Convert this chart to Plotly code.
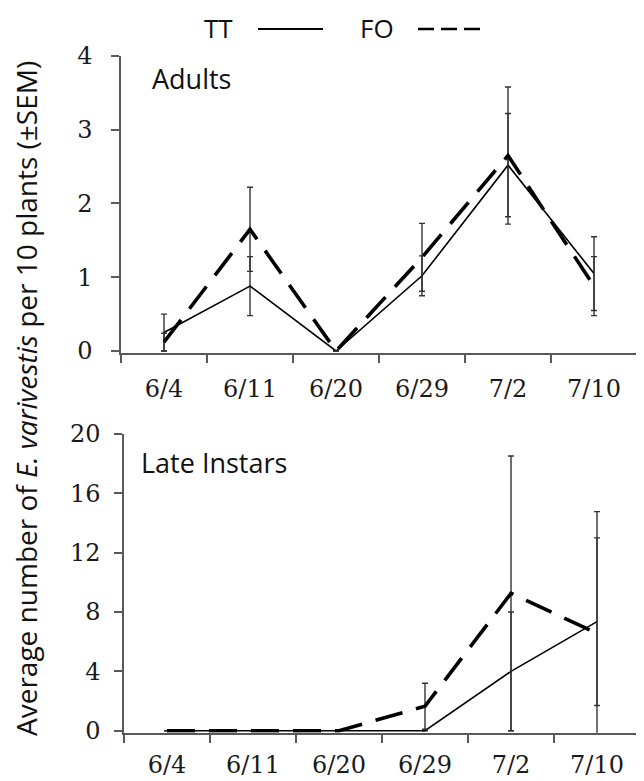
import plotly.graph_objects as go

W, H = 644, 781
OFF = 8  # page body margin

dates = ["6/4", "6/11", "6/20", "6/29", "7/2", "7/10"]

adult_tt = [0.25, 0.88, 0.0, 1.02, 2.52, 1.05]
adult_tt_sem = [0.25, 0.40, 0.0, 0.27, 0.70, 0.50]
adult_fo = [0.12, 1.65, 0.0, 1.27, 2.65, 0.88]
adult_fo_sem = [0.12, 0.57, 0.0, 0.46, 0.93, 0.40]

late_tt = [0.0, 0.0, 0.0, 0.0, 4.0, 7.35]
late_tt_sem = [0.0, 0.0, 0.0, 0.0, 4.0, 5.65]
late_fo = [0.0, 0.0, 0.0, 1.65, 9.26, 6.57]
late_fo_sem = [0.0, 0.0, 0.0, 1.55, 9.26, 8.2]

adult_ticks = [0, 1, 2, 3, 4]
late_ticks = [0, 4, 8, 12, 16, 20]

SANS = "Open Sans"
SERIF = "DejaVu Serif"
AX = "#595959"


def px(x):
    return (x - OFF) / W


def py(y):
    return 1 - (y - OFF) / H


def err(v):
    return [e if e > 0 else None for e in v]


def eb(v):
    return dict(type="data", array=err(v), visible=True, color="#333333",
                thickness=1.4, width=3)


fig = go.Figure()
for (tt, tts, fo, fos, xa, ya) in [
    (adult_tt, adult_tt_sem, adult_fo, adult_fo_sem, "x", "y"),
    (late_tt, late_tt_sem, late_fo, late_fo_sem, "x2", "y2"),
]:
    fig.add_trace(go.Scatter(x=dates, y=tt, mode="lines", name="TT",
                             line=dict(color="black", width=1.6),
                             error_y=eb(tts), xaxis=xa, yaxis=ya,
                             showlegend=False))
    fig.add_trace(go.Scatter(x=dates, y=fo, mode="lines", name="FO",
                             line=dict(color="black", width=3.6, dash="28px,14px"),
                             error_y=eb(fos), xaxis=xa, yaxis=ya,
                             showlegend=False))

xcommon = dict(type="category", categoryorder="array", categoryarray=dates,
               range=[-0.5, 5.5], tickson="boundaries", ticks="outside",
               ticklen=8, tickwidth=1.5, tickcolor=AX, showline=True,
               linecolor=AX, linewidth=1.5, showgrid=False, zeroline=False,
               tickfont=dict(family=SERIF, size=24, color="#1a1a1a"),
               fixedrange=True, automargin=False)
ycommon = dict(ticks="outside", ticklen=8, tickwidth=1.5, tickcolor=AX,
               showline=True, linecolor=AX, linewidth=1.5, showgrid=False,
               zeroline=False,
               tickfont=dict(family=SERIF, size=24, color="#1a1a1a"),
               fixedrange=True, automargin=False)

fig.update_layout(
    width=W, height=H,
    margin=dict(l=0, r=0, t=0, b=0, pad=0, autoexpand=False),
    paper_bgcolor="white", plot_bgcolor="white",
    showlegend=False,
    xaxis=dict(xcommon, domain=[px(121), px(637)], anchor="y",
               ticklabelstandoff=13),
    yaxis=dict(ycommon, domain=[py(353.2), py(56)], anchor="x",
               range=[-0.03, 4], tickvals=adult_ticks,
               ticklabelstandoff=14),
    xaxis2=dict(xcommon, domain=[px(124), px(640)], anchor="y2",
                ticklabelstandoff=10),
    yaxis2=dict(ycommon, domain=[py(732.8), py(434)], anchor="x2",
                range=[-0.14, 20], tickvals=late_ticks,
                ticklabelstandoff=9),
)

annos = [
    dict(text="Adults", x=px(150), y=py(78), xanchor="left", yanchor="middle",
         font=dict(family=SANS, size=27, color="#111111")),
    dict(text="Late Instars", x=px(139), y=py(462), xanchor="left",
         yanchor="middle", font=dict(family=SANS, size=27, color="#111111")),
    dict(text="TT", x=px(218), y=py(28), xanchor="center", yanchor="middle",
         font=dict(family=SANS, size=26, color="#111111")),
    dict(text="FO", x=px(377), y=py(28), xanchor="center", yanchor="middle",
         font=dict(family=SANS, size=26, color="#111111")),
    dict(text="Average number of <i>E. varivestis</i> per 10 plants (±SEM)",
         x=px(26), y=py(399), xanchor="center", yanchor="middle",
         textangle=-90, font=dict(family=SANS, size=28, color="#111111")),
]
for a in annos:
    a.update(xref="paper", yref="paper", showarrow=False)
fig.update_layout(annotations=annos)

fig.add_shape(type="line", xref="paper", yref="paper",
              x0=px(258), x1=px(323), y0=py(29), y1=py(29),
              line=dict(color="black", width=2))
fig.add_shape(type="line", xref="paper", yref="paper",
              x0=px(418), x1=px(485), y0=py(29), y1=py(29),
              line=dict(color="black", width=2.6, dash="16px,7px"))

fig.write_html("out.html")
